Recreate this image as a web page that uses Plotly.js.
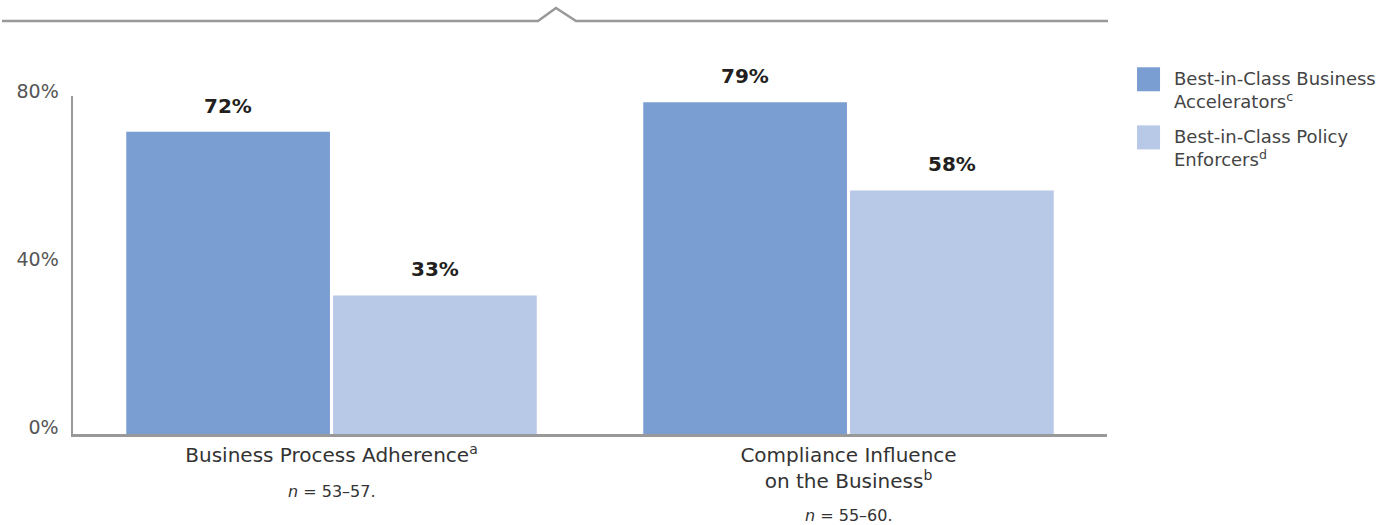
<!DOCTYPE html>
<html>
<head>
<meta charset="utf-8">
<script src="https://cdn.plot.ly/plotly-3.0.1.min.js"></script>
<style>html,body{margin:0;padding:0;background:#fff;}#chart{width:1397px;height:525px;}</style>
</head>
<body>
<div id="chart"></div>
<script>
var categories = ["Business Process Adherence<sup>a</sup>", "Compliance Influence<br>on the Business<sup>b</sup>"];
var sampleNotes = ["<i>n</i> = 53–57.", "<i>n</i> = 55–60."];
var seriesNames = ["Best-in-Class Business<br>Accelerators<sup>c</sup>", "Best-in-Class Policy<br>Enforcers<sup>d</sup>"];
var acceleratorValues = [72, 79];
var enforcerValues = [33, 58];
var yTickValues = [0, 40, 80];
var yTickLabels = ["0%", "40%", "80%"];

var colors = ["#7A9DD2", "#B8C8E7"];
var FONT = "DejaVu Sans, sans-serif";
var series = [acceleratorValues, enforcerValues];

var traces = series.map(function (vals, i) {
  return {
    type: "bar",
    name: seriesNames[i],
    x: categories,
    y: vals,
    marker: {color: colors[i]},
    showlegend: false,
    hoverinfo: "skip"
  };
});

var annotations = [];
// value labels above bars
series.forEach(function (vals, i) {
  vals.forEach(function (v, j) {
    annotations.push({
      xref: "x", yref: "y", x: categories[j], y: v,
      xshift: (i === 0 ? -1 : 1) * 103.5, yshift: 26,
      text: "<b>" + v + "%</b>", showarrow: false,
      font: {family: FONT, size: 20, color: "#231F20"}
    });
  });
});
// sample notes under categories
sampleNotes.forEach(function (t, j) {
  annotations.push({
    xref: "x", yref: "paper", x: categories[j], y: 0,
    yshift: j === 0 ? -69 : -93,
    text: t, showarrow: false,
    font: {family: FONT, size: 16, color: "#333"}
  });
});
// legend (manual, large swatches)
var legendY = [1.085, 0.913];
var shapes = [];
seriesNames.forEach(function (nm, i) {
  var y0 = legendY[i];
  shapes.push({
    type: "rect", xref: "paper", yref: "paper",
    x0: 1.029, x1: 1.0513, y0: y0 - 0.071, y1: y0,
    fillcolor: colors[i], line: {width: 0}
  });
  annotations.push({
    xref: "paper", yref: "paper", x: 1.0629, y: y0 + 0.003,
    xanchor: "left", yanchor: "top", align: "left",
    text: nm, showarrow: false,
    font: {family: FONT, size: 18, color: "#444"}
  });
});
// decorative top line with caret
shapes.push({
  type: "path", xref: "paper", yref: "paper",
  path: "M -0.0687 1.2219 L 0.4497 1.2219 L 0.4671 1.2604 L 0.4865 1.2219 L 1.001 1.2219",
  line: {color: "#999999", width: 2.5}
});

var layout = {
  width: 1397, height: 525,
  margin: {l: 73, r: 290, t: 96, b: 91},
  paper_bgcolor: "#fff", plot_bgcolor: "#fff",
  barmode: "group", bargap: 0.2, bargroupgap: 0.015,
  font: {family: FONT, color: "#333"},
  xaxis: {
    type: "category",
    showline: true, linecolor: "#999999", linewidth: 3,
    showgrid: false, zeroline: false, ticks: "",
    ticklabelstandoff: 1,
    tickfont: {family: FONT, size: 20, color: "#333"},
    fixedrange: true
  },
  yaxis: {
    range: [0, 80.5],
    tickvals: yTickValues, ticktext: yTickLabels,
    showline: true, linecolor: "#999999", linewidth: 2.5,
    showgrid: false, zeroline: false, ticks: "",
    ticklabelstandoff: 8, ticklabelshift: -7,
    tickfont: {family: FONT, size: 19, color: "#555"},
    fixedrange: true
  },
  annotations: annotations,
  shapes: shapes
};

Plotly.newPlot("chart", traces, layout, {displayModeBar: false, staticPlot: true});
</script>
</body>
</html>
